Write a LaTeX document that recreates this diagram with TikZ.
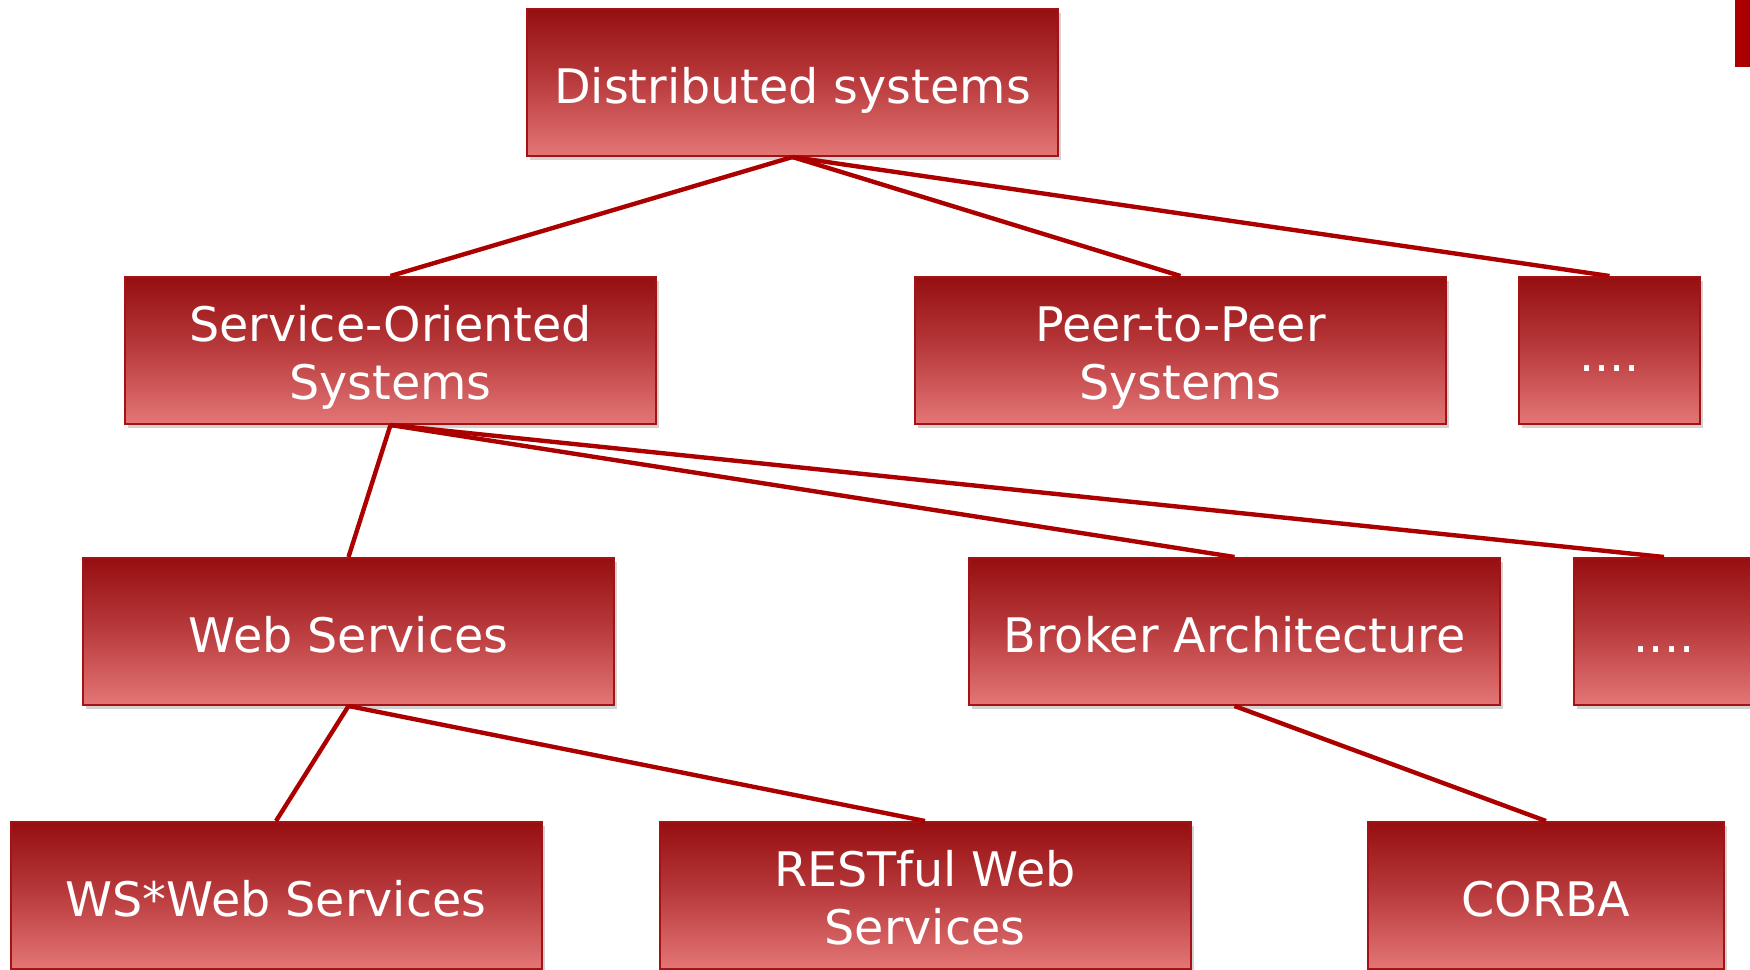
\documentclass[tikz,border=0pt]{standalone}
\usepackage{fontspec}
\setmainfont{DejaVu Sans}
\usetikzlibrary{shadows}
\definecolor{linkred}{RGB}{172,0,0}
\definecolor{boxtop}{RGB}{150,14,16}
\definecolor{boxmid}{RGB}{186,60,62}
\definecolor{boxbot}{RGB}{228,118,118}
\definecolor{boxline}{RGB}{165,18,20}
\newcommand\hitop{\rule{0pt}{25pt}}
\newcommand\lobot{\rule[-5.45pt]{0pt}{5.45pt}}
\tikzset{
  box/.style={rectangle, draw=boxline, line width=1pt,
    top color=boxtop, bottom color=boxbot, middle color=boxmid,
    minimum width=265.5pt, minimum height=73.5pt, inner sep=2pt,
    text=white, align=center, font=\fontsize{23.8}{29}\selectfont,
    drop shadow={opacity=0.35, shadow xshift=1.5pt, shadow yshift=-2pt}},
  onebox/.style={box, text height=23pt, text depth=2.4pt},
  link/.style={draw=linkred, line width=2.2pt}
}
\begin{document}
\begin{tikzpicture}[x=0.5pt,y=-0.5pt]
\useasboundingbox (0,0) rectangle (1750,969);
\fill[linkred] (1735,0) rectangle (1750,67);
% level 0
\node[onebox] (ds) at (792.5,82.5) {Distributed systems};
% level 1
\node[box] (soa) at (390.5,350.5) {\hitop Service-Oriented\\Systems\lobot};
\node[box] (p2p) at (1180.5,350.5) {\hitop Peer-to-Peer\\Systems\lobot};
\node[onebox, minimum width=90.5pt] (dots1) at (1609.5,350.5) {....};
% level 2
\node[onebox] (ws) at (348.5,631.5) {Web Services};
\node[onebox] (broker) at (1234.5,631.5) {Broker Architecture};
\node[onebox, minimum width=90pt] (dots2) at (1664,631.5) {....};
% level 3
\node[onebox] (wsstar) at (276,895.5) {WS*Web Services};
\node[box] (rest) at (925,895.5) {\hitop RESTful Web\\Services\lobot};
\node[onebox, minimum width=178pt] (corba) at (1546,895.5) {CORBA};
% connectors
\draw[link] (ds.south) -- (soa.north);
\draw[link] (ds.south) -- (p2p.north);
\draw[link] (ds.south) -- (dots1.north);
\draw[link] (soa.south) -- (ws.north);
\draw[link] (soa.south) -- (broker.north);
\draw[link] (soa.south) -- (dots2.north);
\draw[link] (ws.south) -- (wsstar.north);
\draw[link] (ws.south) -- (rest.north);
\draw[link] (broker.south) -- (corba.north);
\end{tikzpicture}
\end{document}
